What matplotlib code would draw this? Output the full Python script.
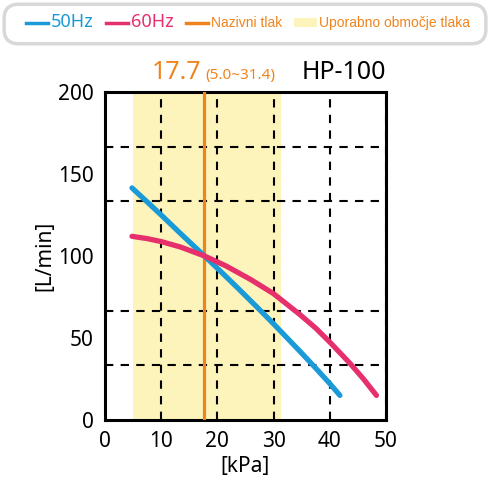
import matplotlib
matplotlib.use("Agg")
import matplotlib.pyplot as plt
from matplotlib.lines import Line2D
from matplotlib.patches import Patch, FancyBboxPatch
from matplotlib.ticker import MultipleLocator

plt.rcParams['font.family'] = ['Noto Sans', 'DejaVu Sans']

## values
p50 = [4.8, 7.5, 10, 13.5, 17.7, 21, 23.7, 27, 30, 34.6, 37.5, 40, 41.8]
q50 = [141.5, 133, 125, 113.5, 100, 89.2, 80.2, 69, 58.6, 42.2, 31.6, 22.2, 15.0]
p60 = [4.8, 7.5, 10, 13.5, 17.7, 21.5, 26, 30, 34.6, 37.5, 40, 43.6, 46, 48.3]
q60 = [112, 110.6, 108.8, 105.4, 100, 94, 85.5, 77, 64.5, 56, 47.5, 34.5, 25, 15]

rated = 17.7
usable = (5.0, 31.4)
model = "HP-100"
labels = ["50Hz", "60Hz", "Nazivni tlak", "Uporabno območje tlaka"]

BLUE = '#1b9ad8'
PINK = '#e6306c'
ORANGE = '#f0841c'
YELLOW = '#fdf4bb'

narrow = ['Liberation Sans Narrow', 'Liberation Sans', 'DejaVu Sans']

fig = plt.figure(figsize=(4.91, 4.80), dpi=100)
ax = fig.add_axes([105/491, 1 - 420/480, 281/491, 328/480])

ax.axvspan(usable[0], usable[1], color=YELLOW, lw=0, zorder=0)

# grid: x every 10, y every 200/6 (not at the label positions)
ax.set_xlim(0, 50)
ax.set_ylim(0, 200)
ax.xaxis.set_major_locator(MultipleLocator(10))
ax.yaxis.set_major_locator(MultipleLocator(50))
ax.yaxis.set_minor_locator(MultipleLocator(200/6))
ax.tick_params(which='both', length=0, labelsize=15)
ax.tick_params(axis='x', pad=8)
ax.tick_params(axis='y', pad=8)
dash = dict(color='black', lw=1.5, linestyle=(0, (4, 3.5)))
ax.grid(True, axis='x', which='major', **dash)
ax.grid(True, axis='y', which='minor', **dash)
ax.grid(False, axis='y', which='major')
ax.set_axisbelow(True)

ax.axvline(rated, color=ORANGE, lw=2.3, zorder=3)
ax.plot(p50, q50, color=BLUE, lw=3.8, solid_capstyle='round', solid_joinstyle='round', zorder=4)
ax.plot(p60, q60, color=PINK, lw=3.8, solid_capstyle='round', solid_joinstyle='round', zorder=4)

for s in ax.spines.values():
    s.set_linewidth(2.2)

ax.set_xlabel('[kPa]', fontsize=15, labelpad=3)
ax.set_ylabel('[L/min]', fontsize=15, labelpad=2)

## title bits
ax.text(0.167, 1.04, f"{rated}", transform=ax.transAxes, color=ORANGE,
        fontsize=18, va='baseline', ha='left')
ax.text(0.357, 1.04, f"({usable[0]}~{usable[1]})", transform=ax.transAxes, color=ORANGE,
        fontsize=11, va='baseline', ha='left')
ax.text(1.0, 1.04, model, transform=ax.transAxes, color='black',
        fontsize=18, va='baseline', ha='right')

## legend across the top, inside a rounded grey box
box = FancyBboxPatch((10/491, 1 - 38/480), 470/491, 28/480, transform=fig.transFigure,
                     boxstyle='round,pad=0.012,rounding_size=0.03',
                     facecolor='white', edgecolor='#d8d8d8', lw=2.5, zorder=0)
fig.patches.append(box)

handles = [Line2D([], [], color=BLUE, lw=2.5),
           Line2D([], [], color=PINK, lw=2.5),
           Line2D([], [], color=ORANGE, lw=2.5),
           Patch(color=YELLOW, lw=0)]
leg = fig.legend(handles, labels, loc='lower left', ncol=4, mode='expand',
                 bbox_to_anchor=(20/491, 1 - 37/480, 456/491, 30/480),
                 borderaxespad=0, handlelength=1.6, handletextpad=0.2,
                 frameon=False, prop={'size': 10})
for txt, col, sz in zip(leg.get_texts(), [BLUE, PINK, ORANGE, ORANGE], [13, 13, 10, 10]):
    txt.set_color(col)
    txt.set_fontsize(sz)
    if sz == 10:
        txt.set_fontfamily(narrow)

fig.savefig('out.png', dpi=100)
